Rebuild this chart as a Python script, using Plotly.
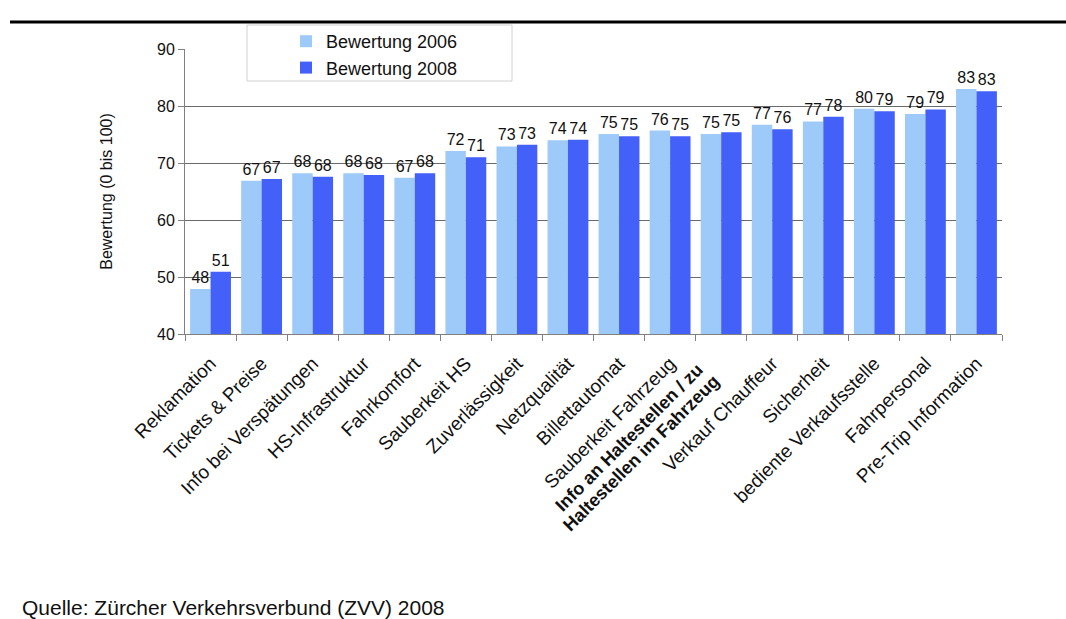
import plotly.graph_objects as go

categories = [
    "Reklamation", "Tickets & Preise", "Info bei Verspätungen", "HS-Infrastruktur",
    "Fahrkomfort", "Sauberkeit HS", "Zuverlässigkeit", "Netzqualität",
    "Billettautomat", "Sauberkeit Fahrzeug",
    "Info an Haltestellen / zu Haltestellen im Fahrzeug",
    "Verkauf Chauffeur", "Sicherheit", "bediente Verkaufsstelle", "Fahrpersonal",
    "Pre-Trip Information",
]
# the long category label is drawn on two tighter lines, in bold
long_label_index = 10
long_label_lines = ["Info an Haltestellen / zu", "Haltestellen im Fahrzeug"]
bewertung_2006 = [47.9, 66.9, 68.2, 68.2, 67.4, 72.1, 72.9, 74.0, 75.1, 75.7, 75.1, 76.7, 77.3, 79.5, 78.6, 83.0]
bewertung_2008 = [50.9, 67.2, 67.6, 67.9, 68.2, 71.0, 73.2, 74.1, 74.7, 74.7, 75.4, 75.9, 78.1, 79.1, 79.4, 82.6]
series_names = ["Bewertung 2006", "Bewertung 2008"]
y_ticks = [40, 50, 60, 70, 80, 90]
source_text = "Quelle: Zürcher Verkehrsverbund (ZVV) 2008"

W, H = 1066, 619
L, R, T, B = 185, 1002, 49, 334

font = "Liberation Sans, Arial, sans-serif"

fig = go.Figure()
for name, vals, color in [(series_names[0], bewertung_2006, "#9DCAF8"),
                          (series_names[1], bewertung_2008, "#4361F9")]:
    fig.add_trace(go.Bar(
        x=categories, y=vals, name=name,
        marker=dict(color=color, line=dict(width=0)),
        texttemplate="%{y:.0f}", textposition="outside",
        textfont=dict(family=font, size=16, color="#111"),
        constraintext="none", cliponaxis=False,
    ))

def px_x(x):
    return (x - L) / (R - L)

def px_y(y):
    return (B - y) / (B - T)

tick_text = [("" if i == long_label_index else c) for i, c in enumerate(categories)]

annotations = [
    dict(text=source_text, xref="paper", yref="paper",
         x=px_x(20), y=px_y(607), xanchor="left", yanchor="middle",
         showarrow=False, font=dict(family=font, size=21, color="#111")),
]
for line_text, (dx, dy) in zip(long_label_lines, [(-12, -23), (5, -34)]):
    annotations.append(dict(
        text="<b>" + line_text + "</b>", xref="x", yref="paper",
        x=categories[long_label_index], y=0, xanchor="right", yanchor="top",
        xshift=dx, yshift=dy, textangle=-45,
        showarrow=False, font=dict(family=font, size=18, color="#111")))

fig.update_layout(
    width=W, height=H,
    margin=dict(l=L, r=W - R, t=T, b=H - B, pad=0),
    paper_bgcolor="white", plot_bgcolor="white",
    barmode="group", bargap=0.2, bargroupgap=0.0,
    font=dict(family=font, size=16, color="#111"),
    showlegend=True,
    legend=dict(
        x=px_x(286), y=px_y(23), xanchor="left", yanchor="top",
        bgcolor="rgba(0,0,0,0)", borderwidth=0,
        font=dict(family=font, size=18, color="#111"),
        tracegroupgap=0, itemwidth=30,
    ),
    xaxis=dict(
        tickmode="array", tickvals=categories, ticktext=tick_text,
        tickangle=-45, tickfont=dict(family=font, size=19, color="#111"),
        showline=True, linecolor="#808080", linewidth=1,
        ticks="outside", tickson="boundaries", ticklen=6, tickcolor="#808080",
        showgrid=False, ticklabelstandoff=10,
    ),
    yaxis=dict(
        range=[40, 90], tickvals=y_ticks,
        tickfont=dict(family=font, size=16, color="#111"),
        showline=True, linecolor="#808080", linewidth=1,
        ticks="outside", ticklen=6, tickcolor="#808080",
        showgrid=True, gridcolor="#6a6a6a", gridwidth=1,
        title=dict(text="Bewertung (0 bis 100)", font=dict(family=font, size=16, color="#111"), standoff=40),
        zeroline=False,
    ),
    shapes=[
        dict(type="line", xref="paper", yref="paper",
             x0=px_x(10), x1=px_x(1066), y0=px_y(22), y1=px_y(22),
             line=dict(color="black", width=3)),
        dict(type="rect", xref="paper", yref="paper", layer="above",
             x0=px_x(247), x1=px_x(512), y0=px_y(25), y1=px_y(81),
             fillcolor="white", line=dict(color="#d0d0d0", width=1)),
    ],
    annotations=annotations,
)

fig.write_html("out.html")
